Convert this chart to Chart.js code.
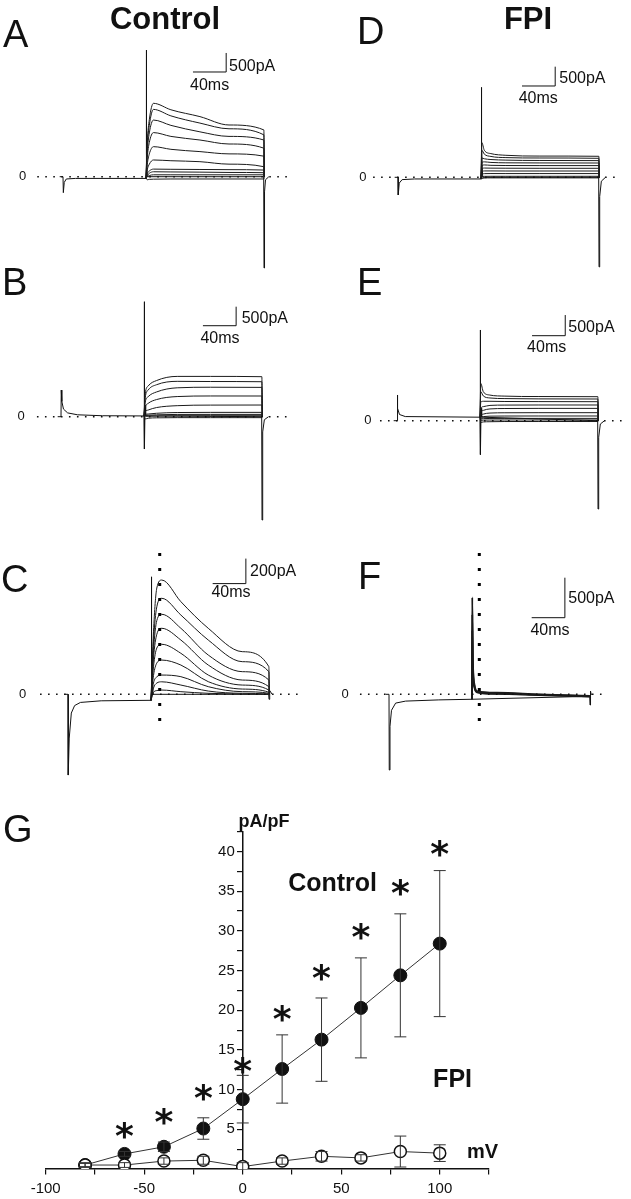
<!DOCTYPE html>
<html>
<head>
<meta charset="utf-8">
<script src="https://cdn.jsdelivr.net/npm/chart.js@4.4.1/dist/chart.umd.min.js"></script>
<style>
  body { margin: 0; background: #fff; }
  #fig { position: relative; width: 631px; height: 1199px; background: #fff; overflow: hidden;
         font-family: 'Liberation Sans', Arial, sans-serif; color: #111; }
  #fig canvas { position: absolute; }
  .letter { position: absolute; font-size: 38px; line-height: 38px; }
  .title { position: absolute; width: 200px; text-align: center; font-size: 31px; line-height: 31px; font-weight: bold; }
</style>
</head>
<body>
<div id="fig">
  <canvas id="cA" width="315" height="280" style="left:0;top:0"></canvas>
  <canvas id="cD" width="316" height="280" style="left:315px;top:0"></canvas>
  <canvas id="cB" width="315" height="260" style="left:0;top:280px"></canvas>
  <canvas id="cE" width="316" height="260" style="left:315px;top:280px"></canvas>
  <canvas id="cC" width="315" height="250" style="left:0;top:540px"></canvas>
  <canvas id="cF" width="316" height="250" style="left:315px;top:540px"></canvas>
  <canvas id="cG" width="631" height="409" style="left:0;top:790px"></canvas>

  <div class="title" style="left:65px;top:3px">Control</div>
  <div class="title" style="left:428px;top:3px">FPI</div>
  <div class="letter" style="left:3px;top:15px">A</div>
  <div class="letter" style="left:357px;top:12px">D</div>
  <div class="letter" style="left:2px;top:263px">B</div>
  <div class="letter" style="left:357px;top:263px">E</div>
  <div class="letter" style="left:1px;top:560px">C</div>
  <div class="letter" style="left:358px;top:557px">F</div>
  <div class="letter" style="left:3px;top:810px">G</div>
</div>
<script>
Chart.defaults.font.family = "'Liberation Sans', Arial, sans-serif";
Chart.defaults.color = '#111';

// ---- current traces (ms after prepulse, pA) ----
// A: control, step family
const aTimes = [100, 101.5, 104, 109, 130, 165, 200, 242, 242.5];
const aTraces = [
  [-45, 900, 1500, 1930, 1760, 1580, 1360, 1230, 0],
  [-45, 800, 1350, 1770, 1600, 1410, 1260, 1100, 0],
  [-45, 650, 1150, 1490, 1350, 1180, 1060, 965, 0],
  [-45, 500, 900, 1160, 1060, 965, 860, 750, 0],
  [-45, 320, 600, 790, 720, 660, 600, 540, 0],
  [-45, 180, 330, 440, 420, 395, 330, 263, 0],
  [-45, 80, 150, 200, 195, 190, 185, 175, 0],
  [-45, 30, 90, 130, 125, 120, 112, 105, 0],
  [-45, 0, 30, 50, 50, 50, 50, 50, 0],
  [-45, -80, -70, -65, -60, -60, -60, -60, 0]
];
const aSpikeT = [-4, 0, 0.4, 1.5, 4, 15, 100, 100.3, 100.8, 101.5, 241.8, 242.2, 242.8, 244, 248];
const aSpikeV = [0, 0, -420, -150, -60, -45, -45, 3330, 600, 0, 0, -2400, -400, -80, 0];

// B: control, after prepulse
const bTimes = [100, 101.5, 105, 115, 140, 180, 242, 242.5];
const bTraces = [
  [20, 600, 807, 950, 1060, 1060, 1052, 0],
  [20, 500, 700, 840, 930, 925, 920, 0],
  [20, 380, 526, 650, 760, 775, 771, 0],
  [20, 250, 350, 450, 530, 545, 544, 0],
  [20, 130, 175, 240, 290, 305, 307, 0],
  [20, 60, 70, 90, 110, 114, 114, 0],
  [20, 35, 40, 50, 60, 61, 61, 0],
  [20, 15, 15, 20, 25, 26, 26, 0],
  [20, -60, -40, -30, -25, -25, -25, 0]
];
const bSpikeT = [-4, 0, 0.3, 1, 3, 8, 20, 50, 100, 100.3, 100.7, 101.3, 102, 241.8, 242.2, 243, 245, 250];
const bSpikeV = [0, 0, 700, 400, 200, 100, 50, 25, 20, 3025, -850, 300, 20, 0, -2717, -400, -80, 0];

// C: control, transient component
const cTimes = [100, 103, 107, 113, 136, 169, 210, 242, 242.5];
const cTraces = [
  [-48, 500, 850, 914, 741, 528, 341, 221, 0],
  [-48, 420, 700, 768, 634, 434, 261, 181, 0],
  [-48, 350, 590, 640, 528, 314, 181, 114, 0],
  [-48, 290, 480, 528, 434, 234, 114, 61, 0],
  [-48, 220, 370, 400, 328, 154, 74, 34, 0],
  [-48, 150, 250, 274, 234, 101, 42, 16, 0],
  [-48, 90, 140, 154, 141, 61, 21, 8, 0],
  [-48, 50, 90, 100, 74, 26, 8, 2, 0],
  [-48, 15, 30, 34, 21, 8, 2, 0, 0]
];
const cSpikeT = [-4, 0, 0.3, 1.5, 4, 8, 15, 40, 100, 100.3, 101, 102.5, 241.8, 242.2, 243, 246];
const cSpikeV = [0, 0, -646, -350, -150, -90, -65, -52, -48, 940, 200, 0, 0, -40, 30, 0];

// D: FPI, step family
const dTimes = [100, 101, 104, 112, 130, 170, 242, 242.5];
const dTraces = [
  [-43, 900, 700, 613, 570, 550, 544, 0],
  [-43, 700, 600, 540, 510, 500, 492, 0],
  [-43, 500, 480, 460, 445, 436, 432, 0],
  [-43, 380, 400, 385, 375, 372, 370, 0],
  [-43, 280, 320, 310, 305, 303, 303, 0],
  [-43, 200, 240, 237, 235, 233, 233, 0],
  [-43, 120, 165, 165, 163, 163, 163, 0],
  [-43, 60, 95, 97, 96, 96, 96, 0],
  [-43, 10, 25, 26, 26, 26, 26, 0],
  [-43, -30, -20, -15, -15, -15, -15, 0]
];
const dSpikeT = [-4, 0, 0.3, 1.5, 5, 20, 100, 100.3, 101, 102, 241.8, 242.2, 243, 245, 250];
const dSpikeV = [0, 0, -458, -150, -60, -43, -43, 2330, 800, 0, 0, -2320, -500, -100, 0];

// E: FPI, after prepulse
const eTimes = [100, 101, 104, 112, 130, 170, 242, 242.5];
const eTraces = [
  [85, 900, 700, 620, 595, 585, 581, 0],
  [85, 700, 600, 550, 535, 528, 525, 0],
  [85, 450, 470, 470, 465, 462, 460, 0],
  [85, 300, 340, 370, 378, 380, 380, 0],
  [85, 200, 250, 285, 295, 298, 298, 0],
  [85, 130, 160, 185, 192, 194, 194, 0],
  [85, 90, 100, 110, 113, 114, 114, 0],
  [85, 45, 50, 54, 56, 56, 56, 0],
  [85, 10, 14, 16, 17, 17, 17, 0],
  [85, -40, -30, -25, -20, -20, -20, 0]
];
const eSpikeT = [-4, 0, 0.3, 1, 3, 10, 100, 100.3, 100.7, 101.3, 102, 241.8, 242.2, 243, 245, 250];
const eSpikeV = [0, 0, 622, 300, 150, 100, 85, 2195, -820, 300, 85, 0, -2137, -400, -80, 0];

// F: FPI, transient component
const fTimes = [100, 100.3, 101, 103, 106, 130, 180, 242];
const fTraces = [
  [-62, 1212, 450, 120, 40, 20, 0, -20],
  [-62, 1000, 380, 100, 30, 10, -5, -25],
  [-62, 800, 300, 80, 25, 5, -10, -30]
];
const fSpikeT = [-4, 0, 0.3, 1.2, 3, 8, 20, 60, 100, 241.8, 242.2, 242.8, 243.5, 245];
const fSpikeV = [0, 0, -946, -400, -200, -110, -85, -70, -62, -25, -134, 40, 0, 0];

// ---- G: current density vs voltage ----
const mv = [-80, -60, -40, -20, 0, 20, 40, 60, 80, 100];
const controlMean = [0.5, 1.9, 2.8, 5.1, 8.8, 12.6, 16.3, 20.3, 24.4, 28.4];
const controlSem = [0.2, 0.3, 0.6, 1.35, 3.0, 4.3, 5.25, 6.3, 7.75, 9.2];
const fpiMean = [0.5, 0.5, 1.0, 1.1, 0.3, 1.0, 1.6, 1.4, 2.2, 2.0];
const fpiSem = [0.3, 0.3, 0.4, 0.5, 0.5, 0.4, 0.6, 0.4, 1.95, 1.05];
const starMv = [-60, -40, -20, 0, 20, 40, 60, 80, 100];
const starY = [4.9, 6.6, 9.7, 13.1, 19.6, 24.7, 29.9, 35.5, 40.4];

const PX_PER_MS = 0.83;

// text placed in data units
const notesPlugin = {
  id: 'notes',
  afterDatasetsDraw(chart, args, opts) {
    const ctx = chart.ctx, x = chart.scales.x, y = chart.scales.y;
    (opts.items || []).forEach(n => {
      ctx.save();
      ctx.font = n.font;
      ctx.fillStyle = '#111';
      ctx.textAlign = n.align || 'center';
      ctx.textBaseline = 'middle';
      ctx.fillText(n.text, x.getPixelForValue(n.x), y.getPixelForValue(n.y));
      ctx.restore();
    });
  }
};

// error bars, asterisks and right-aligned y labels for G
const markPlugin = {
  id: 'marks',
  afterDatasetsDraw(chart, args, opts) {
    const ctx = chart.ctx, ys = chart.scales.y, xs = chart.scales.x;
    chart.data.datasets.forEach((ds, di) => {
      const meta = chart.getDatasetMeta(di);
      if (ds.errors) {
        ctx.save();
        ctx.strokeStyle = '#333';
        ctx.lineWidth = 1;
        meta.data.forEach((pt, i) => {
          const v = ds.data[i].y, e = ds.errors[i];
          const top = ys.getPixelForValue(v + e), bot = ys.getPixelForValue(Math.max(v - e, 0));
          ctx.beginPath();
          ctx.moveTo(pt.x, top); ctx.lineTo(pt.x, bot);
          ctx.moveTo(pt.x - 6, top); ctx.lineTo(pt.x + 6, top);
          if (v - e > 0) { ctx.moveTo(pt.x - 6, bot); ctx.lineTo(pt.x + 6, bot); }
          ctx.stroke();
        });
        ctx.restore();
      }
      if (ds.asterisk) {
        ctx.save();
        ctx.font = "bold 36px 'DejaVu Sans'";
        ctx.fillStyle = '#111';
        ctx.textAlign = 'center';
        ctx.textBaseline = 'alphabetic';
        const m = ctx.measureText('*');
        const off = (m.actualBoundingBoxAscent - m.actualBoundingBoxDescent) / 2;
        meta.data.forEach(pt => ctx.fillText('*', pt.x, pt.y + off));
        ctx.restore();
      }
    });
    if (opts.yLabels) {
      const axisX = xs.getPixelForValue(0);
      ctx.save();
      ctx.font = "15px 'Liberation Sans'";
      ctx.fillStyle = '#111';
      ctx.textAlign = 'right';
      ctx.textBaseline = 'middle';
      ys.ticks.forEach(t => {
        if (t.value > 0 && t.value % 5 === 0) ctx.fillText(String(t.value), axisX - 8, ys.getPixelForValue(t.value));
      });
      ctx.restore();
    }
  }
};
Chart.register(notesPlugin, markPlugin);

const panels = [
  { id: 'cA', t0: 63, zeroY: 176.7, k: 26.3, times: aTimes, traces: aTraces, spikeT: aSpikeT, spikeV: aSpikeV,
    dots: [-31, 273.5], zeroT: -48.6, bar: { t: 156.6, v: 2754, dv: 500 },
    pa: { t: 200, v: 2900, text: '500pA' }, ms: { t: 176.6, v: 2385 } },
  { id: 'cB', t0: 61, zeroY: 136.7, k: 26.3, times: bTimes, traces: bTraces, spikeT: bSpikeT, spikeV: bSpikeV,
    dots: [-29, 276], zeroT: -48.2, bar: { t: 171, v: 2393, dv: 500 },
    pa: { t: 217.7, v: 2588, text: '500pA' }, ms: { t: 191.6, v: 2043 } },
  { id: 'cC', t0: 68, zeroY: 154.3, k: 8, times: cTimes, traces: cTraces, spikeT: cSpikeT, spikeV: cSpikeV,
    dots: [-33.7, 277], zeroT: -54.6, vline: { t: 110.5, top: 1130, bottom: -230 }, bar: { t: 174.3, v: 885.6, dv: 200 },
    pa: { t: 219.3, v: 978, text: '200pA' }, ms: { t: 196.4, v: 814 } },
  { id: 'cD', t0: 83, zeroY: 177.3, k: 25.9, times: dTimes, traces: dTraces, spikeT: dSpikeT, spikeV: dSpikeV,
    dots: [-30, 267.5], zeroT: -42.2, bar: { t: 149.4, v: 2365, dv: 500 },
    pa: { t: 194.3, v: 2546, text: '500pA' }, ms: { t: 169, v: 2028 } },
  { id: 'cE', t0: 82, zeroY: 140.7, k: 24.2, times: eTimes, traces: eTraces, spikeT: eSpikeT, spikeV: eSpikeV,
    dots: [-20.5, 272], zeroT: -35, bar: { t: 162.7, v: 2057, dv: 500 },
    pa: { t: 206.4, v: 2255, text: '500pA' }, ms: { t: 180.3, v: 1771 } },
  { id: 'cF', t0: 74, zeroY: 154.3, k: 12.5, times: fTimes, traces: fTraces, spikeT: fSpikeT, spikeV: fSpikeV,
    dots: [-35, 260], zeroT: -53, vline: { t: 108.8, top: 1766, bottom: -359 }, bar: { t: 171.9, v: 957.5, dv: 500 },
    pa: { t: 216, v: 1191, text: '500pA' }, ms: { t: 194, v: 791 }, traceWidth: 1.8 }
];

function makePanel(p) {
  const canvas = document.getElementById(p.id);
  const W = canvas.width, H = canvas.height;
  const datasets = [];
  datasets.push({ data: [{ x: p.dots[0], y: 0 }, { x: p.dots[1], y: 0 }],
    borderColor: '#111', borderWidth: 1.6, borderDash: [1.6, 6.4] });
  if (p.vline) {
    datasets.push({ data: [{ x: p.vline.t, y: p.vline.top }, { x: p.vline.t, y: p.vline.bottom }],
      borderColor: '#000', borderWidth: 3, borderDash: [3, 12] });
  }
  p.traces.forEach(vals => {
    datasets.push({ data: p.times.map((t, i) => ({ x: t, y: vals[i] })),
      borderColor: '#1a1a1a', borderWidth: p.traceWidth || 1, cubicInterpolationMode: 'monotone' });
  });
  datasets.push({ data: p.spikeT.map((t, i) => ({ x: t, y: p.spikeV[i] })), borderColor: '#111', borderWidth: 1 });
  const b = p.bar;
  datasets.push({ data: [{ x: b.t, y: b.v }, { x: b.t + 40, y: b.v }, { x: b.t + 40, y: b.v + b.dv }],
    borderColor: '#111', borderWidth: 1 });

  new Chart(canvas, {
    type: 'line',
    data: { datasets },
    options: {
      responsive: false,
      animation: false,
      events: [],
      layout: { padding: 0 },
      elements: { point: { radius: 0 }, line: { tension: 0 } },
      scales: {
        x: { type: 'linear', display: false, min: -p.t0 / PX_PER_MS, max: (W - p.t0) / PX_PER_MS },
        y: { type: 'linear', display: false, min: -(H - p.zeroY) * p.k, max: p.zeroY * p.k }
      },
      plugins: {
        legend: { display: false },
        tooltip: { enabled: false },
        notes: { items: [
          { x: p.zeroT, y: 0, text: '0', font: "13px 'Liberation Sans'" },
          { x: p.pa.t, y: p.pa.v, text: p.pa.text, font: "16px 'Liberation Sans'", align: 'left' },
          { x: p.ms.t, y: p.ms.v, text: '40ms', font: "16px 'Liberation Sans'" }
        ] }
      }
    }
  });
}
panels.forEach(makePanel);

// G
new Chart(document.getElementById('cG'), {
  type: 'line',
  data: {
    datasets: [
      { label: 'FPI', data: mv.map((m, i) => ({ x: m, y: fpiMean[i] })), errors: fpiSem,
        borderColor: '#333', borderWidth: 1, pointRadius: 6, pointBackgroundColor: '#fff',
        pointBorderColor: '#111', pointBorderWidth: 1.5 },
      { label: 'Control', data: mv.map((m, i) => ({ x: m, y: controlMean[i] })), errors: controlSem,
        borderColor: '#333', borderWidth: 1, pointRadius: 6.5, pointBackgroundColor: '#111',
        pointBorderColor: '#111', pointBorderWidth: 1 },
      { label: 'p<0.05', data: starMv.map((m, i) => ({ x: m, y: starY[i] })), asterisk: true,
        showLine: false, pointRadius: 0 }
    ]
  },
  options: {
    responsive: false,
    animation: false,
    events: [],
    layout: { padding: { left: 45.7, right: 142, top: 41.7, bottom: 30 } },
    scales: {
      x: {
        type: 'linear', min: -100, max: 125, position: { y: 0 },
        border: { color: '#111', width: 1.5 },
        grid: { drawOnChartArea: false, drawTicks: true, tickLength: 5, color: '#111', lineWidth: 1.2 },
        ticks: { stepSize: 25, autoSkip: false, maxRotation: 0, padding: 6, color: '#111',
                 font: { size: 15 }, callback: v => (v % 50 === 0 && v <= 100) ? String(v) : '' }
      },
      y: {
        type: 'linear', min: 0, max: 42.5, position: { x: 0 },
        border: { color: '#111', width: 1.5 },
        grid: { drawOnChartArea: false, drawTicks: true, tickLength: 5, color: '#111', lineWidth: 1.2 },
        ticks: { stepSize: 2.5, autoSkip: false, padding: 2, callback: () => '' }
      }
    },
    plugins: {
      legend: { display: false },
      tooltip: { enabled: false },
      marks: { yLabels: true },
      notes: { items: [
        { x: 10.8, y: 43.7, text: 'pA/pF', font: "bold 18px 'Liberation Sans'" },
        { x: 45.6, y: 35.9, text: 'Control', font: "bold 25px 'Liberation Sans'" },
        { x: 106.5, y: 11.2, text: 'FPI', font: "bold 25px 'Liberation Sans'" },
        { x: 121.7, y: 2.1, text: 'mV', font: "bold 20px 'Liberation Sans'" }
      ] }
    }
  }
});
</script>
</body>
</html>
